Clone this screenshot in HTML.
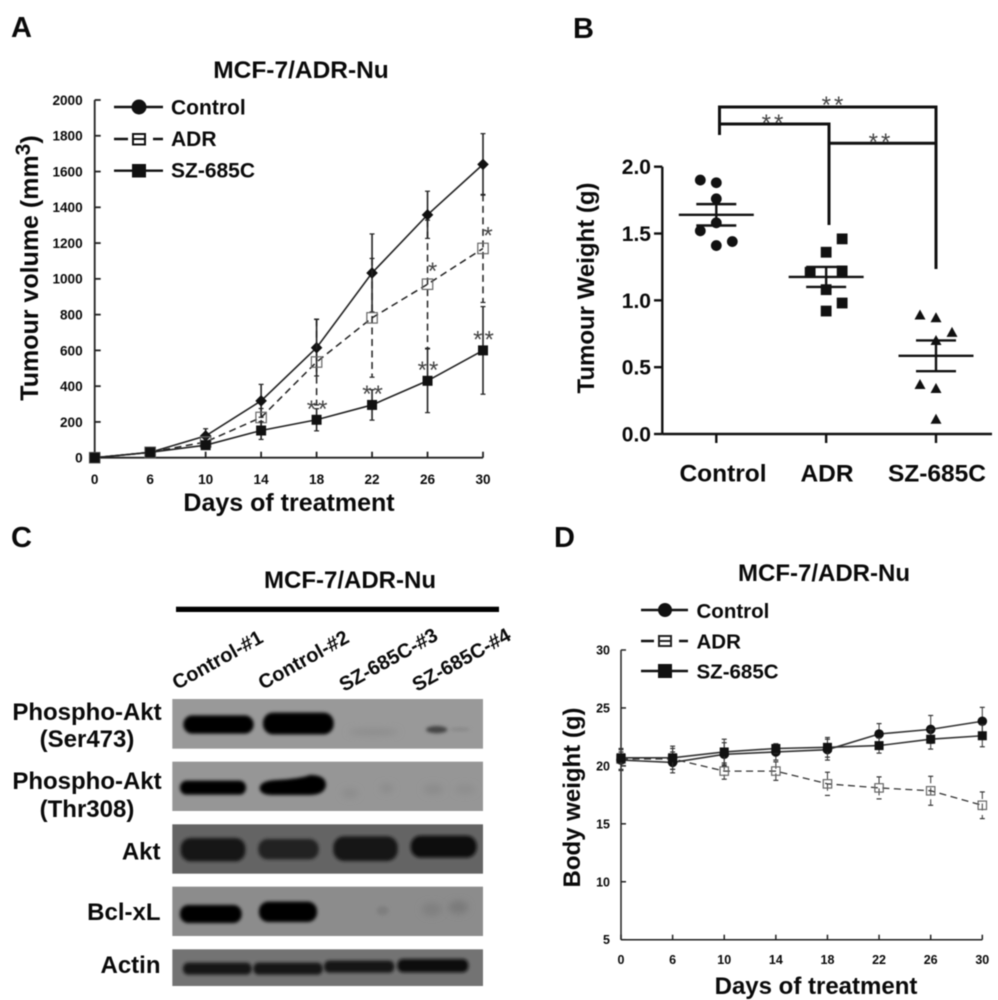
<!DOCTYPE html>
<html lang="en">
<head>
<meta charset="utf-8">
<title>MCF-7/ADR-Nu tumour figure</title>
<style>
html,body{margin:0;padding:0;background:#fff;width:998px;height:1000px;overflow:hidden}
svg{display:block;filter:blur(0.65px)}
text{font-family:"Liberation Sans",Arial,sans-serif;font-weight:bold;fill:#0a0a0a}
</style>
</head>
<body>
<svg id="fig" xmlns="http://www.w3.org/2000/svg" width="998" height="1000" viewBox="0 0 998 1000">
  <defs>
    <filter id="b4" x="-30%" y="-60%" width="160%" height="220%"><feGaussianBlur stdDeviation="5"/></filter>
    <filter id="b9" x="-60%" y="-100%" width="220%" height="300%"><feGaussianBlur stdDeviation="10"/></filter>
  </defs>
  <rect width="998" height="1000" fill="#fff"/>

  <text x="11" y="37" font-size="29">A</text>
  <text x="573" y="38" font-size="29">B</text>
  <text x="11" y="547" font-size="29">C</text>
  <text x="554" y="547" font-size="29">D</text>

  <!-- Panel A static -->
  <g id="panelA">
    <text x="301" y="78" font-size="24.5" text-anchor="middle">MCF-7/ADR-Nu</text>
    <text transform="translate(38,268) rotate(-90)" font-size="25" text-anchor="middle">Tumour volume (mm<tspan font-size="21" dy="-8">3</tspan><tspan dy="8">)</tspan></text>
    <text x="289" y="511" font-size="25" text-anchor="middle">Days of treatment</text>
    <g>
      <g>
        <line x1="114" y1="107" x2="163" y2="107" stroke="#111" stroke-width="2.4"/>
        <circle cx="139" cy="107" r="7.5" fill="#111"/>
        <text x="171" y="114.5" font-size="21">Control</text>
      </g>
      <g>
        <line x1="114" y1="139" x2="163" y2="139" stroke="#111" stroke-width="2.4" stroke-dasharray="14 6 10 9 10"/>
        <rect x="133" y="134" width="12" height="10.5" fill="#fff" stroke="#111" stroke-width="2"/>
        <line x1="133" y1="139" x2="145" y2="139" stroke="#111" stroke-width="2"/>
        <text x="171" y="146" font-size="21">ADR</text>
      </g>
      <g>
        <line x1="114" y1="170.7" x2="163" y2="170.7" stroke="#111" stroke-width="2.4"/>
        <rect x="132" y="164" width="14" height="13.5" fill="#111"/>
        <text x="171" y="177.5" font-size="21">SZ-685C</text>
      </g>
    </g>
  </g>

  <!-- Panel B static -->
  <g id="panelB">
    <text transform="translate(594,288) rotate(-90)" font-size="24" text-anchor="middle">Tumour Weight (g)</text>
    <g fill="none" stroke="#111" stroke-width="3">
      <path d="M719.5 135V107H936V269"/>
      <path d="M719.5 124H829V225"/>
      <path d="M829 143.3H936"/>
    </g>
    <text x="834" y="113" font-size="24" text-anchor="middle" letter-spacing="3" style="fill:#444;font-weight:normal">**</text>
    <text x="774" y="131" font-size="24" text-anchor="middle" letter-spacing="3" style="fill:#444;font-weight:normal">**</text>
    <text x="881" y="150" font-size="24" text-anchor="middle" letter-spacing="3" style="fill:#444;font-weight:normal">**</text>
  </g>

  <!-- Panel C western blot -->
  <g>
    <text x="350" y="588" font-size="24" text-anchor="middle">MCF-7/ADR-Nu</text>
    <rect x="176" y="606.7" width="323" height="5.3" fill="#000"/>
    <text transform="translate(177,690) rotate(-29)" font-size="20">Control-#1</text>
    <text transform="translate(263,690) rotate(-29)" font-size="20">Control-#2</text>
    <text transform="translate(344,692) rotate(-29)" font-size="20">SZ-685C-#3</text>
    <text transform="translate(417,692) rotate(-29)" font-size="20">SZ-685C-#4</text>

    <text font-size="24" text-anchor="middle"><tspan x="87" y="720">Phospho-Akt</tspan><tspan x="87" y="747">(Ser473)</tspan></text>
    <text font-size="24" text-anchor="middle"><tspan x="87" y="789">Phospho-Akt</tspan><tspan x="87" y="817">(Thr308)</tspan></text>
    <text x="160.5" y="859.5" font-size="24" text-anchor="end">Akt</text>
    <text x="160.5" y="920" font-size="24" text-anchor="end">Bcl-xL</text>
    <text x="160.5" y="973" font-size="24" text-anchor="end">Actin</text>

    <g transform="translate(0,520) scale(0.33333)">
      <g>
        <rect x="517" y="537" width="932" height="149" fill="#999"/>
        <ellipse cx="1120" cy="636" rx="75" ry="10" fill="#8d8d8d" filter="url(#b9)"/>
        <ellipse cx="1380" cy="628" rx="30" ry="6" fill="#8a8a8a" filter="url(#b4)"/>
        <rect x="550" y="586" width="211" height="55" rx="27" fill="#000" filter="url(#b4)"/>
        <rect x="789" y="578" width="212" height="65" rx="30" fill="#000" filter="url(#b4)"/>
        <ellipse cx="1310" cy="629" rx="32" ry="11" fill="#444" filter="url(#b4)"/>
      </g>
      <g>
        <rect x="517" y="725" width="932" height="148" fill="#969696"/>
        <ellipse cx="1050" cy="820" rx="24" ry="14" fill="#8c8c8c" filter="url(#b9)"/>
        <ellipse cx="1160" cy="805" rx="20" ry="14" fill="#8c8c8c" filter="url(#b9)"/>
        <ellipse cx="1300" cy="808" rx="30" ry="16" fill="#8c8c8c" filter="url(#b9)"/>
        <ellipse cx="1395" cy="808" rx="30" ry="14" fill="#8e8e8e" filter="url(#b9)"/>
        <rect x="540" y="782" width="198" height="42" rx="20" fill="#050505" filter="url(#b4)"/>
        <path d="M779 803Q782 782 830 780Q900 776 930 765Q978 765 978 795Q975 824 930 825H820Q779 826 779 803Z" fill="#000" filter="url(#b4)"/>
      </g>
      <g>
        <rect x="517" y="913" width="932" height="148" fill="#646464"/>
        <rect x="542" y="954" width="194" height="70" rx="30" fill="#181818" filter="url(#b4)"/>
        <rect x="775" y="957" width="181" height="61" rx="28" fill="#202020" filter="url(#b4)"/>
        <rect x="1000" y="949" width="193" height="74" rx="32" fill="#141414" filter="url(#b4)"/>
        <rect x="1232" y="947" width="198" height="66" rx="30" fill="#101010" filter="url(#b4)"/>
      </g>
      <g>
        <rect x="517" y="1100" width="932" height="148" fill="#8c8c8c"/>
        <ellipse cx="1148" cy="1172" rx="18" ry="14" fill="#7f7f7f" filter="url(#b4)"/>
        <ellipse cx="1295" cy="1168" rx="30" ry="20" fill="#808080" filter="url(#b9)"/>
        <ellipse cx="1375" cy="1162" rx="30" ry="20" fill="#7a7a7a" filter="url(#b9)"/>
        <rect x="540" y="1155" width="185" height="54" rx="25" fill="#000" filter="url(#b4)"/>
        <rect x="777" y="1145" width="174" height="61" rx="28" fill="#000" filter="url(#b4)"/>
      </g>
      <g>
        <rect x="517" y="1288" width="932" height="110" fill="#737373"/>
        <rect x="549" y="1328" width="206" height="36" rx="16" fill="#141414" filter="url(#b4)"/>
        <rect x="760" y="1328" width="208" height="36" rx="16" fill="#141414" filter="url(#b4)"/>
        <rect x="972" y="1322" width="211" height="36" rx="16" fill="#141414" filter="url(#b4)"/>
        <rect x="1192" y="1317" width="213" height="40" rx="17" fill="#101010" filter="url(#b4)"/>
      </g>
    </g>
  </g>

  <!-- Panel D static -->
  <g id="panelD">
    <text x="824" y="581" font-size="24" text-anchor="middle">MCF-7/ADR-Nu</text>
    <text transform="translate(580,797.5) rotate(-90)" font-size="24" text-anchor="middle">Body weight (g)</text>
    <text x="816" y="994" font-size="24" text-anchor="middle">Days of treatment</text>
    <g>
      <g>
        <line x1="641" y1="610" x2="688" y2="610" stroke="#111" stroke-width="2.4"/>
        <circle cx="665" cy="610" r="7" fill="#111"/>
        <text x="696.5" y="618" font-size="20.5">Control</text>
      </g>
      <g>
        <line x1="641" y1="641" x2="688" y2="641" stroke="#111" stroke-width="2.4" stroke-dasharray="13 6 10 9 9"/>
        <rect x="659" y="636" width="12" height="10" fill="#fff" stroke="#222" stroke-width="2"/>
        <line x1="659" y1="641" x2="671" y2="641" stroke="#222" stroke-width="2"/>
        <text x="696.5" y="648.5" font-size="20.5">ADR</text>
      </g>
      <g>
        <line x1="641" y1="671" x2="688" y2="671" stroke="#111" stroke-width="2.4"/>
        <rect x="658" y="664" width="14" height="14" fill="#111"/>
        <text x="696.5" y="678.5" font-size="20.5">SZ-685C</text>
      </g>
    </g>
  </g>
</svg>

<script>
// ===== Panel A data =====
const aDays = [0, 6, 10, 14, 18, 22, 26, 30];
const aYTicks = [0, 200, 400, 600, 800, 1000, 1200, 1400, 1600, 1800, 2000];
const aControl = [0, 30, 122, 318, 615, 1033, 1358, 1640];
const aControlErr = [0, 12, 40, 92, 158, 218, 132, 172];
const aAdr = [0, 30, 88, 225, 535, 782, 970, 1170];
const aAdrErr = [0, 8, 22, 50, 240, 332, 358, 302];
const aSz = [0, 30, 70, 152, 212, 295, 430, 600];
const aSzErr = [0, 8, 20, 50, 62, 85, 178, 245];
const aSzStars = ['', '', '', '', '**', '**', '**', '**'];
const aAdrStars = ['', '', '', '', '', '', '*', '*'];

// ===== Panel B data =====
const bCategories = ['Control', 'ADR', 'SZ-685C'];
const bYTicks = [0, 0.5, 1.0, 1.5, 2.0];
const bControlPts = [1.90, 1.88, 1.76, 1.58, 1.52, 1.44, 1.41];
const bControlCols = [-1, 0, 0, 0, -1, 1, 0];
const bAdrPts = [1.46, 1.36, 1.21, 1.22, 1.08, 0.98, 0.92];
const bAdrCols = [1, 0, -1, 1, 0, 1, 0];
const bSzPts = [0.89, 0.87, 0.76, 0.70, 0.37, 0.34, 0.11];
const bSzCols = [-1, 0, 1, 0, -1, 0, 0];
const bMeans = [1.64, 1.175, 0.585];
const bSems = [0.08, 0.075, 0.115];

// ===== Panel D data =====
const dDays = [0, 6, 10, 14, 18, 22, 26, 30];
const dYTicks = [5, 10, 15, 20, 25, 30];
const dControl = [20.5, 20.3, 21.0, 21.2, 21.4, 22.75, 23.15, 23.85];
const dControlErr = [0.9, 0.9, 1.0, 0.7, 0.9, 0.9, 1.2, 1.2];
const dAdr = [20.6, 20.6, 19.55, 19.55, 18.45, 18.1, 17.85, 16.6];
const dAdrErr = [0.9, 0.9, 0.7, 0.8, 1.0, 0.95, 1.25, 1.15];
const dSz = [20.7, 20.7, 21.2, 21.5, 21.6, 21.75, 22.3, 22.6];
const dSzErr = [0.5, 1.0, 1.1, 0.4, 0.85, 0.65, 0.85, 0.95];

const NS = 'http://www.w3.org/2000/svg';

function add(parent, tag, name, attrs, txt) {
  const el = document.createElementNS(NS, tag);
  
  
  for (const k in attrs) el.setAttribute(k, attrs[k]);
  if (txt !== undefined) el.textContent = txt;
  parent.appendChild(el);
  return el;
}

// axis functions
const xA = i => 94.7 + i * (483 - 94.7) / (aDays.length - 1);
const yA = v => 457.7 - v * (457.7 - 100) / 2000;
const xB = i => 716.3 + i * 109.85;
const yB = v => 434 - v * (434 - 166.7) / 2;
const xD = i => 621 + i * (982.3 - 621) / (dDays.length - 1);
const yD = v => 939.7 - (v - 5) * (939.7 - 650) / 25;

function lineChart(root, prefix, x, y, days, yTicks, axisStroke, tickLen, tickSize, tickGapX, tickBaseY, yMax, yMin) {
  const axes = add(root, 'g', prefix + '-axes', {});
  add(axes, 'line', prefix + '-y-axis', {x1: x(0), x2: x(0), y1: y(yMax), y2: y(yMin), stroke: '#222', 'stroke-width': axisStroke});
  add(axes, 'line', prefix + '-x-axis', {x1: x(0), x2: x(days.length - 1), y1: y(yMin), y2: y(yMin), stroke: '#222', 'stroke-width': axisStroke});
  yTicks.forEach(t => {
    add(axes, 'line', prefix + '-y-tick', {x1: x(0), x2: x(0) + tickLen, y1: y(t), y2: y(t), stroke: '#222', 'stroke-width': axisStroke});
    add(axes, 'text', prefix + '-y-tick-label', {x: x(0) - tickGapX, y: y(t) + tickSize * 0.36, 'font-size': tickSize, 'text-anchor': 'end'}, String(t));
  });
  days.forEach((d, i) => {
    add(axes, 'line', prefix + '-x-tick', {x1: x(i), x2: x(i), y1: y(yMin), y2: y(yMin) - tickLen, stroke: '#222', 'stroke-width': axisStroke});
    add(axes, 'text', prefix + '-x-tick-label', {x: x(i), y: tickBaseY, 'font-size': tickSize, 'text-anchor': 'middle'}, String(d));
  });
}

function series(root, name, x, y, vals, errs, opts) {
  const g = add(root, 'g', 'series-' + name, {});
  vals.forEach((v, i) => {
    if (!errs[i]) return;
    add(g, 'line', name + '-error-bar', {x1: x(i), x2: x(i), y1: y(v + errs[i]), y2: y(v - errs[i]), stroke: opts.color, 'stroke-width': opts.errW, 'stroke-dasharray': opts.dash || 'none'});
    add(g, 'line', name + '-error-cap-upper', {x1: x(i) - 2.5, x2: x(i) + 2.5, y1: y(v + errs[i]), y2: y(v + errs[i]), stroke: opts.color, 'stroke-width': 1.2});
    add(g, 'line', name + '-error-cap-lower', {x1: x(i) - 2.5, x2: x(i) + 2.5, y1: y(v - errs[i]), y2: y(v - errs[i]), stroke: opts.color, 'stroke-width': 1.2});
  });
  const pts = vals.map((v, i) => x(i).toFixed(2) + ',' + y(v).toFixed(2)).join(' ');
  add(g, 'polyline', name + '-line', {points: pts, fill: 'none', stroke: opts.color, 'stroke-width': opts.lineW, 'stroke-dasharray': opts.dash || 'none'});
  vals.forEach((v, i) => {
    const cx = x(i), cy = y(v), s = opts.size;
    if (opts.marker === 'diamond') {
      add(g, 'polygon', name + '-point', {points: `${cx},${cy - s} ${cx + s},${cy} ${cx},${cy + s} ${cx - s},${cy}`, fill: '#111'});
    } else if (opts.marker === 'circle') {
      add(g, 'circle', name + '-point', {cx: cx, cy: cy, r: s, fill: '#111'});
    } else if (opts.marker === 'open') {
      add(g, 'rect', name + '-point', {x: cx - s, y: cy - s, width: 2 * s, height: 2 * s, fill: 'none', stroke: '#666', 'stroke-width': 1.2});
    } else {
      add(g, 'rect', name + '-point', {x: cx - s, y: cy - s, width: 2 * s, height: 2 * s, fill: '#111'});
    }
  });
}

// ----- Panel A -----
const panelA = document.getElementById('panelA');
lineChart(panelA, 'chart-a', xA, yA, aDays, aYTicks, 1.8, 6, 13.6, 12, 484, 2000, 0);
series(panelA, 'a-control', xA, yA, aControl, aControlErr, {color: '#222', lineW: 1.6, errW: 1.6, marker: 'diamond', size: 5.8});
series(panelA, 'a-adr', xA, yA, aAdr, aAdrErr, {color: '#222', lineW: 1.5, errW: 1.5, dash: '7 4.5', marker: 'open', size: 5.2});
series(panelA, 'a-sz-685c', xA, yA, aSz, aSzErr, {color: '#222', lineW: 1.6, errW: 1.6, marker: 'square', size: 5});
aSzStars.forEach((s, i) => {
  if (s) add(panelA, 'text', 'a-sz-significance', {x: xA(i) + 1.5, y: yA(aSz[i]) - 3, 'font-size': 24, 'letter-spacing': 2, 'text-anchor': 'middle', style: 'fill:#444;font-weight:normal'}, s);
});
aAdrStars.forEach((s, i) => {
  if (s) add(panelA, 'text', 'a-adr-significance', {x: xA(i) + 5, y: yA(aAdr[i]) - 5, 'font-size': 24, 'text-anchor': 'middle', style: 'fill:#444;font-weight:normal'}, s);
});

// ----- Panel B -----
const panelB = document.getElementById('panelB');
const bAxes = add(panelB, 'g', 'chart-b-axes', {});
add(bAxes, 'line', 'chart-b-y-axis', {x1: 662.3, x2: 662.3, y1: yB(2), y2: yB(0), stroke: '#111', 'stroke-width': 2.4});
add(bAxes, 'line', 'chart-b-x-axis', {x1: 662.3, x2: 992, y1: yB(0), y2: yB(0), stroke: '#111', 'stroke-width': 2.4});
bYTicks.forEach(t => {
  add(bAxes, 'line', 'chart-b-y-tick', {x1: 654, x2: 662.3, y1: yB(t), y2: yB(t), stroke: '#111', 'stroke-width': 2.4});
  add(bAxes, 'text', 'chart-b-y-tick-label', {x: 651, y: yB(t) + 7.5, 'font-size': 21, 'text-anchor': 'end'}, t.toFixed(1));
});
bCategories.forEach((c, i) => {
  add(bAxes, 'line', 'chart-b-x-tick', {x1: xB(i), x2: xB(i), y1: yB(0), y2: yB(0) + 9, stroke: '#111', 'stroke-width': 2.4});
  add(bAxes, 'text', 'chart-b-x-tick-label', {x: [723, 827, 937][i], y: 481.5, 'font-size': 24.5, 'text-anchor': 'middle'}, c);
});
[[bControlPts, bControlCols, 'circle'], [bAdrPts, bAdrCols, 'square'], [bSzPts, bSzCols, 'triangle']].forEach((grp, i) => {
  const g = add(panelB, 'g', 'group-' + bCategories[i].toLowerCase(), {});
  grp[0].forEach((v, j) => {
    const cx = xB(i) + grp[1][j] * 16, cy = yB(v);
    if (grp[2] === 'circle') add(g, 'circle', 'control-point', {cx: cx, cy: cy, r: 5.4, fill: '#111'});
    if (grp[2] === 'square') add(g, 'rect', 'adr-point', {x: cx - 5.4, y: cy - 5.4, width: 10.8, height: 10.8, fill: '#111'});
    if (grp[2] === 'triangle') add(g, 'polygon', 'sz-685c-point', {points: `${cx},${cy - 5.5} ${cx + 5.5},${cy + 4.5} ${cx - 5.5},${cy + 4.5}`, fill: '#111'});
  });
  const m = bMeans[i], e = bSems[i], cx = xB(i);
  add(g, 'line', 'mean-line', {x1: cx - 37.5, x2: cx + 37.5, y1: yB(m), y2: yB(m), stroke: '#111', 'stroke-width': 2.4});
  add(g, 'line', 'sem-bar', {x1: cx, x2: cx, y1: yB(m + e), y2: yB(m - e), stroke: '#111', 'stroke-width': 2.4});
  add(g, 'line', 'sem-cap-upper', {x1: cx - 20, x2: cx + 20, y1: yB(m + e), y2: yB(m + e), stroke: '#111', 'stroke-width': 2.4});
  add(g, 'line', 'sem-cap-lower', {x1: cx - 20, x2: cx + 20, y1: yB(m - e), y2: yB(m - e), stroke: '#111', 'stroke-width': 2.4});
});

// ----- Panel D -----
const panelD = document.getElementById('panelD');
lineChart(panelD, 'chart-d', xD, yD, dDays, dYTicks, 1.5, 5, 12.5, 11, 964, 30, 5);
series(panelD, 'd-adr', xD, yD, dAdr, dAdrErr, {color: '#333', lineW: 1.3, errW: 1, dash: '7 4.5', marker: 'open', size: 4.2});
series(panelD, 'd-control', xD, yD, dControl, dControlErr, {color: '#333', lineW: 1.6, errW: 1, marker: 'circle', size: 4.8});
series(panelD, 'd-sz-685c', xD, yD, dSz, dSzErr, {color: '#333', lineW: 1.6, errW: 1, marker: 'square', size: 4.5});
</script>
</body>
</html>
